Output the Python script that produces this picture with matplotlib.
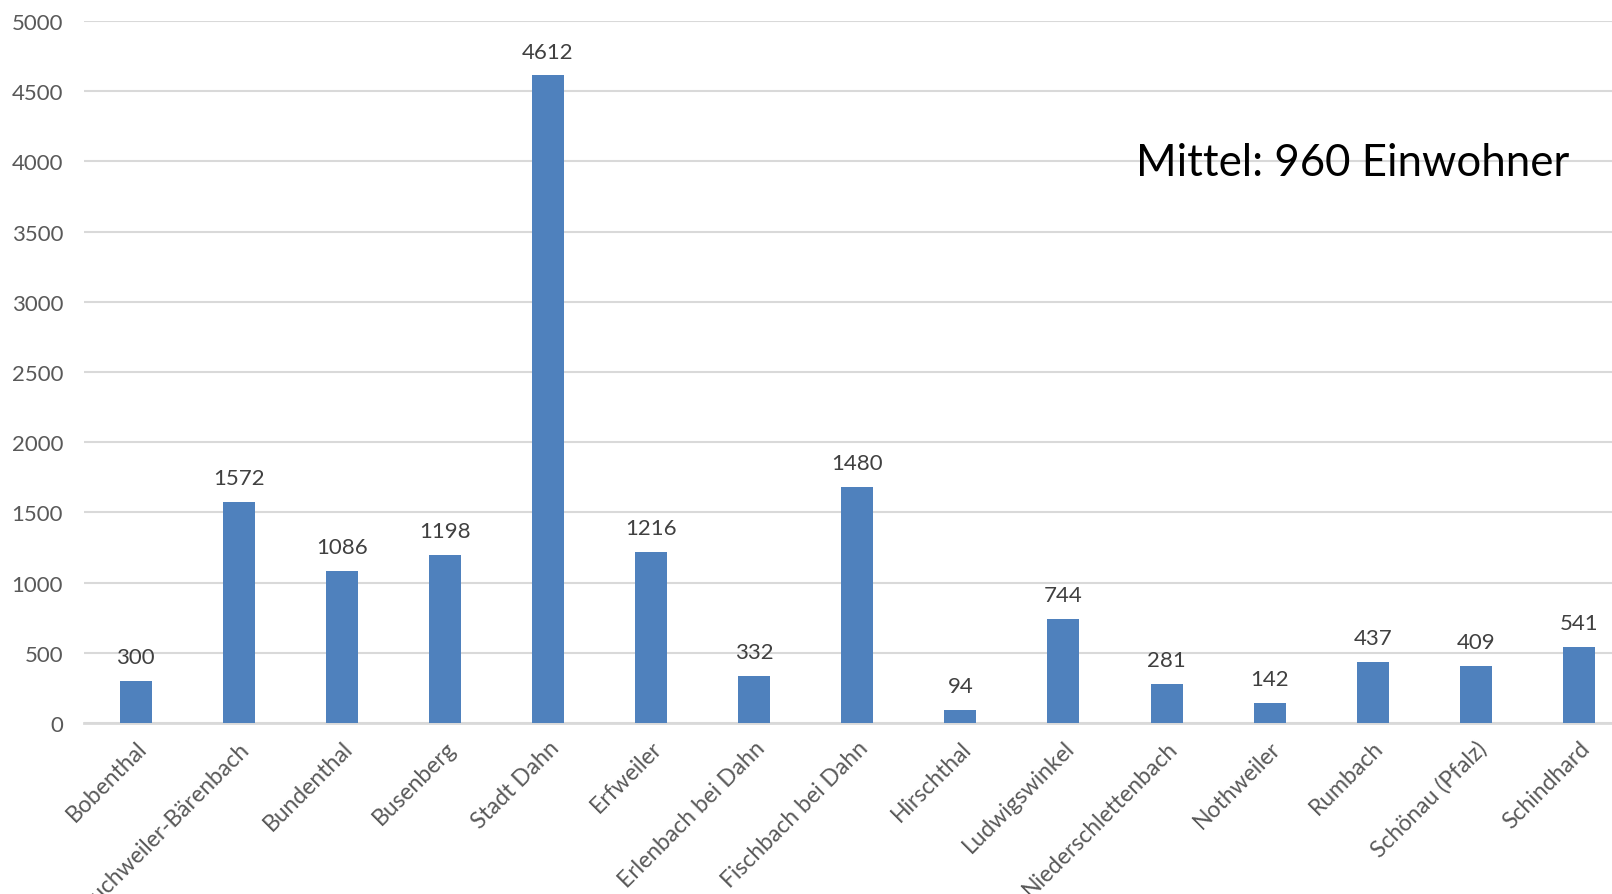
import numpy as np
import matplotlib
matplotlib.use("Agg")
import matplotlib.pyplot as plt

plt.rcParams['font.family'] = ['Lato', 'DejaVu Sans']

# Gemeinden der Verbandsgemeinde Dahn
orte = ["Bobenthal", "Bruchweiler-Bärenbach", "Bundenthal", "Busenberg", "Stadt Dahn",
        "Erfweiler", "Erlenbach bei Dahn", "Fischbach bei Dahn", "Hirschthal",
        "Ludwigswinkel", "Niederschlettenbach", "Nothweiler", "Rumbach",
        "Schönau (Pfalz)", "Schindhard"]
# bar heights as drawn
einwohner = [300, 1572, 1086, 1198, 4612, 1216, 332, 1683, 94, 744, 281, 142, 437, 409, 541]
# data labels as printed (Fischbach label differs from its bar)
beschriftung = ["300", "1572", "1086", "1198", "4612", "1216", "332", "1480", "94",
                "744", "281", "142", "437", "409", "541"]
y_ticks = [0, 500, 1000, 1500, 2000, 2500, 3000, 3500, 4000, 4500, 5000]

fig = plt.figure(figsize=(16.12, 8.95), dpi=100)
# axes run a bit past the right edge, like the cropped original
ax = fig.add_axes([84 / 1612, 171 / 895, 1546.5 / 1612, 702 / 895])

x = np.arange(len(orte))
bars = ax.bar(x, einwohner, width=0.31, color="#4F81BD", zorder=3)

for xi, h, txt in zip(x, einwohner, beschriftung):
    ax.annotate(txt, (xi, h), xytext=(0, 10), textcoords="offset points",
                ha="center", va="bottom", fontsize=16, color="#404040")

ax.set_xlim(-0.5, len(orte) - 0.5)
ax.set_ylim(0, 5000)
ax.set_yticks(y_ticks)
ax.yaxis.grid(True, color="#D9D9D9", linewidth=1.5, zorder=0)
ax.set_axisbelow(True)
for s in ["top", "right", "left"]:
    ax.spines[s].set_visible(False)
ax.spines["bottom"].set_color("#D9D9D9")
ax.spines["bottom"].set_linewidth(2)
ax.tick_params(axis="y", length=0, pad=15, labelsize=16, labelcolor="#595959")
ax.tick_params(axis="x", length=0, pad=10)

ax.set_xticks(x)
ax.set_xticklabels(orte, rotation=45, ha="right", va="top", rotation_mode="anchor",
                   fontsize=16.5, color="#595959")

fig.text(1136 / 1612, 1 - 163 / 895, "Mittel: 960 Einwohner", fontsize=31.5,
         color="black", ha="left", va="center")

fig.savefig("out.png", dpi=100)
